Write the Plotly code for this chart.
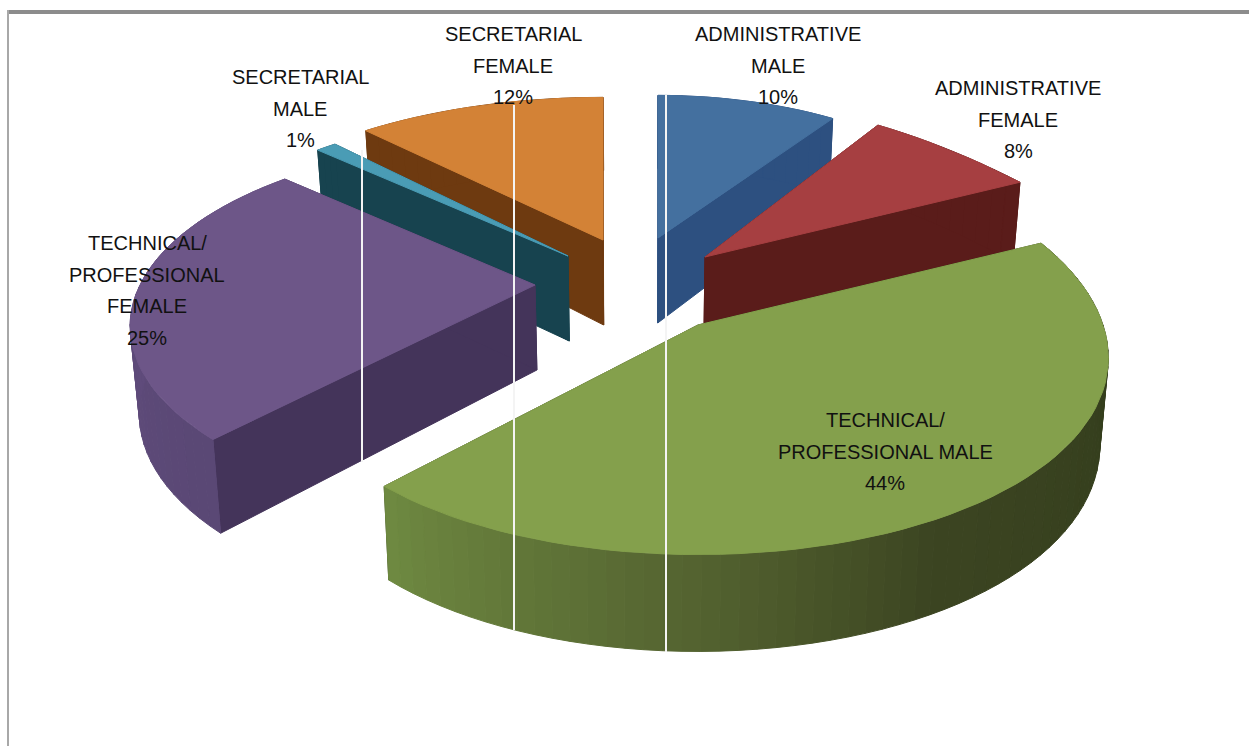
import numpy as np
import plotly.graph_objects as go

# ---- data ----
categories = ["ADMINISTRATIVE MALE", "ADMINISTRATIVE FEMALE", "TECHNICAL/ PROFESSIONAL MALE",
              "TECHNICAL/ PROFESSIONAL FEMALE", "SECRETARIAL MALE", "SECRETARIAL FEMALE"]
values = [10, 8, 44, 25, 1, 12]
label_lines = [["ADMINISTRATIVE", "MALE"], ["ADMINISTRATIVE", "FEMALE"], ["TECHNICAL/", "PROFESSIONAL MALE"],
               ["TECHNICAL/", "PROFESSIONAL", "FEMALE"], ["SECRETARIAL", "MALE"], ["SECRETARIAL", "FEMALE"]]

# ---- styling / projection (one entry per slice) ----
top_colors = ["#44709f", "#a63f41", "#84a04c", "#6d5688", "#4a9cb5", "#d38236"]
cut_colors = ["#2d5080", "#5a1c1a", "#3c4522", "#44345a", "#17434f", "#6e3a10"]
apex_x = [658, 705, 698, 535, 568, 603]
apex_y = [238, 257, 325, 285, 256, 240]
radius_x = [350, 437, 405, 395, 395, 402]
radius_y = [174, 192, 202, 178, 178, 174]
persp_x = [0.22, 0.6, 0.16, 0.22, 0.22, 0.22]
persp_y = [0.22, 0.22, 0.12, 0.22, 0.22, 0.22]
label_x = [778, 1018, 885, 147, 300, 513]
label_y = [34, 88, 420, 243, 77, 34]
LINE_H = 31.5
DEPTH = 85
VANISH_X = 640
BOTTOM_SHRINK = 0.018
draw_order = [0, 1, 5, 4, 3, 2]
wall_ramp_angle = [90, 150, 180, 223, 270, 315]
wall_ramp_green = [(51, 61, 28), (60, 69, 34), (84, 99, 48), (111, 138, 66), (111, 138, 66), (111, 138, 66)]
wall_ramp_purple = [(68, 52, 90), (68, 52, 90), (80, 62, 104), (90, 72, 117), (96, 76, 124), (96, 76, 124)]

fracs = np.array(values, float) / sum(values)
ends = np.cumsum(fracs) * 360
starts = ends - fracs * 360


def lower_x(x, extra):
    return VANISH_X + (x - VANISH_X) * (1 - BOTTOM_SHRINK * extra)


def project(i, theta, extra=0.0):
    t = np.radians(theta)
    u, v = np.sin(t), np.cos(t)
    x = apex_x[i] + radius_x[i] * u / (1 + persp_x[i] * v)
    y = apex_y[i] - radius_y[i] * v / (1 + persp_y[i] * v)
    return lower_x(x, extra), y + extra * DEPTH * (1 - 0.14 * v)


def apex(i, extra=0.0):
    return lower_x(apex_x[i], extra), apex_y[i] + extra * DEPTH


def poly(fig, xs, ys, color):
    fig.add_trace(go.Scatter(x=list(xs), y=list(ys), mode="lines", fill="toself", fillcolor=color,
                             line=dict(color=color, width=1), hoverinfo="skip", showlegend=False))


def ramp(theta, table):
    c = [np.interp(theta, wall_ramp_angle, [r[k] for r in table]) for k in range(3)]
    return "rgb(%d,%d,%d)" % tuple(c)


fig = go.Figure()
for i in draw_order:
    th = np.linspace(starts[i], ends[i], max(4, int(fracs[i] * 160)))
    # the two cut faces
    for edge in (starts[i], ends[i]):
        x0, y0 = apex(i)
        x1, y1 = apex(i, 1)
        x2, y2 = project(i, edge)
        x3, y3 = project(i, edge, 1)
        poly(fig, [x0, x2, x3, x1, x0], [y0, y2, y3, y1, y0], cut_colors[i])
    # outer wall, in strips so it can be shaded
    table = wall_ramp_green if i == 2 else wall_ramp_purple if i == 3 else None
    for a, b in zip(th[:-1], th[1:]):
        xa, ya = project(i, a)
        xb, yb = project(i, b)
        xc, yc = project(i, b, 1)
        xd, yd = project(i, a, 1)
        col = ramp((a + b) / 2, table) if table else cut_colors[i]
        poly(fig, [xa, xb, xc, xd, xa], [ya, yb, yc, yd, ya], col)
    # top face
    xs, ys = project(i, th)
    ax, ay = apex(i)
    poly(fig, [ax, *xs, ax], [ay, *ys, ay], top_colors[i])

for i in range(len(values)):
    lines = label_lines[i] + ["%d%%" % round(fracs[i] * 100)]
    for k, text in enumerate(lines):
        fig.add_annotation(x=label_x[i], y=label_y[i] + k * LINE_H, text=text, showarrow=False,
                           font=dict(family="Liberation Sans", size=20, color="#111111"),
                           xanchor="center", yanchor="middle")

for gx, y0, y1 in [(362, 150, 462), (514, 105, 630), (666, 95, 652)]:
    fig.add_shape(type="line", x0=gx, x1=gx, y0=y0, y1=y1, line=dict(color="#f4f4f4", width=2))
fig.add_shape(type="line", x0=7, x1=1249, y0=12, y1=12, line=dict(color="#8c8c8c", width=4))
fig.add_shape(type="line", x0=8, x1=8, y0=10, y1=746, line=dict(color="#a8a8a8", width=2))

fig.update_layout(width=1249, height=746, margin=dict(l=0, r=0, t=0, b=0), autosize=False,
                  paper_bgcolor="white", plot_bgcolor="white", showlegend=False,
                  xaxis=dict(range=[0, 1249], visible=False, fixedrange=True),
                  yaxis=dict(range=[746, 0], visible=False, fixedrange=True))
fig.write_html("out.html", config={"displayModeBar": False},
               post_script="document.body.style.margin='0';document.body.style.overflow='hidden';")
